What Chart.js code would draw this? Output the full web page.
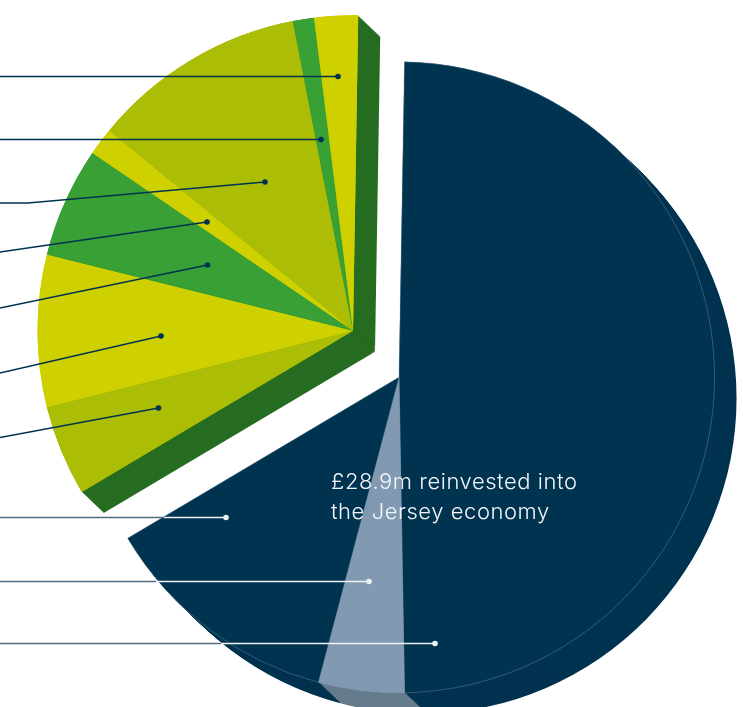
<!DOCTYPE html>
<html>
<head>
<meta charset="utf-8">
<title>Reinvestment into the Jersey economy</title>
<script src="https://cdn.jsdelivr.net/npm/chart.js@4"></script>
<style>
  html, body { margin: 0; background: #fff; overflow: hidden; }
  #stage { position: relative; width: 743px; height: 707px; }
  #stage canvas { position: absolute; left: 0; top: 0; }
  #caption {
    position: absolute; left: 331px; top: 466px;
    font: 300 22px/30px Inter, sans-serif;
    letter-spacing: 0.55px;
    color: #f1f5f8; white-space: nowrap;
  }
</style>
</head>
<body>
<div id="stage">
  <canvas id="mainPie" width="743" height="707"></canvas>
  <canvas id="fanPie" width="743" height="707"></canvas>
  <canvas id="leaders" width="743" height="707"></canvas>
  <div id="caption">£28.9m reinvested into<br>the Jersey economy</div>
</div>
<script>
// slice sizes in degrees, last entry is the part of the circle the other wedge occupies
const mainSlices = [178, 15.8, 44.5, 121.7];
const fanSlices = [16.7, 28, 20.3, 5.1, 39.6, 3.9, 8.05, 238.35];

const mainColors = ["#003350", "#829ab1", "#003350", "transparent"];
const mainSides = ["#003350", "#667c8e", "#003350", "transparent"];
const fanColors = ["#acbd05", "#cfd000", "#39a035", "#cfd000", "#acbd05", "#39a035", "#cfd000", "transparent"];
const fanSides = ["#266d21", "#266d21", "#266d21", "#266d21", "#266d21", "#266d21", "#266d21", "transparent"];

// leader lines: the upper ones end in a dark dot, the lower three turn light over the navy slices
const darkLeaders = [
  [[0, 76.5], [338, 76.5]],
  [[0, 139.5], [321, 139.5]],
  [[0, 203], [28, 203], [265, 182]],
  [[0, 252], [207, 222]],
  [[0, 308], [207.5, 265]],
  [[0, 373], [161, 336]],
  [[0, 437.5], [158.5, 408]]
];
const outerLeaders = [
  [[0, 517.5], [164, 517.5]],
  [[0, 581.5], [156, 581.5]],
  [[0, 643.5], [221, 643.5]]
];
const lightLeaders = [
  [[164, 517.5], [226, 517.5]],
  [[156, 581.5], [369, 581.5]],
  [[221, 643.5], [435, 643.5]]
];

const NAVY = "#003350";
const DEPTH_X = 22;
const DEPTH_Y = 21;
const DEPTH_STEPS = 24;

// repeats the slices shifted down-right underneath the top face,
// then lays the face colours once so the joins between slices stay clean
const extrude = {
  id: "extrude",
  beforeDatasetsDraw(chart, args, opts) {
    const arcs = chart.getDatasetMeta(0).data;
    const ctx = chart.ctx;
    const paint = (arc, color) => {
      const copy = Object.create(arc);
      copy.options = { ...arc.options, backgroundColor: color, borderWidth: 0 };
      copy.draw(ctx);
    };
    for (let i = DEPTH_STEPS; i > 0; i--) {
      ctx.save();
      ctx.translate(DEPTH_X * i / DEPTH_STEPS, DEPTH_Y * i / DEPTH_STEPS);
      arcs.forEach((arc, n) => paint(arc, opts.colors[n]));
      ctx.restore();
    }
    arcs.forEach(arc => paint(arc, arc.options.backgroundColor));
  }
};

function makePie(id, values, colors, sides, rotation, padding, border) {
  return new Chart(document.getElementById(id), {
    type: "pie",
    data: {
      datasets: [{
        data: values,
        backgroundColor: colors,
        borderWidth: values.map((v, i) => (i === values.length - 1 ? 0 : border)),
        borderColor: "#7f9aae"
      }]
    },
    options: {
      responsive: false,
      animation: false,
      rotation: rotation,
      layout: { padding: padding },
      events: [],
      plugins: {
        legend: { display: false },
        tooltip: { enabled: false },
        extrude: { colors: sides }
      }
    },
    plugins: [extrude]
  });
}

makePie("mainPie", mainSlices, mainColors, mainSides, 1,
  { left: 83, top: 61.5, right: 28, bottom: 14 }, 0.4);
makePie("fanPie", fanSlices, fanColors, fanSides, -120.7,
  { left: 37.5, top: 15.3, right: 74.5, bottom: 60.7 }, 0);

function leaderDataset(path, color, dotAtEnd) {
  return {
    data: path.map(p => ({ x: p[0], y: p[1] })),
    showLine: true,
    clip: false,
    borderColor: color,
    borderWidth: 1.3,
    pointRadius: path.map((p, i) => (dotAtEnd && i === path.length - 1 ? 2.8 : 0)),
    pointBackgroundColor: color,
    pointBorderWidth: 0
  };
}

const leaderSets = [
  ...darkLeaders.map(path => leaderDataset(path, NAVY, true)),
  ...outerLeaders.map(path => leaderDataset(path, "#4f6d82", false)),
  ...lightLeaders.map(path => leaderDataset(path, "#eef2f5", true))
];

new Chart(document.getElementById("leaders"), {
  type: "scatter",
  data: { datasets: leaderSets },
  options: {
    responsive: false,
    animation: false,
    events: [],
    layout: { padding: 0, autoPadding: false },
    plugins: { legend: { display: false }, tooltip: { enabled: false } },
    scales: {
      x: { display: false, min: 0, max: 743 },
      y: { display: false, min: 0, max: 707, reverse: true }
    }
  }
});
</script>
</body>
</html>
